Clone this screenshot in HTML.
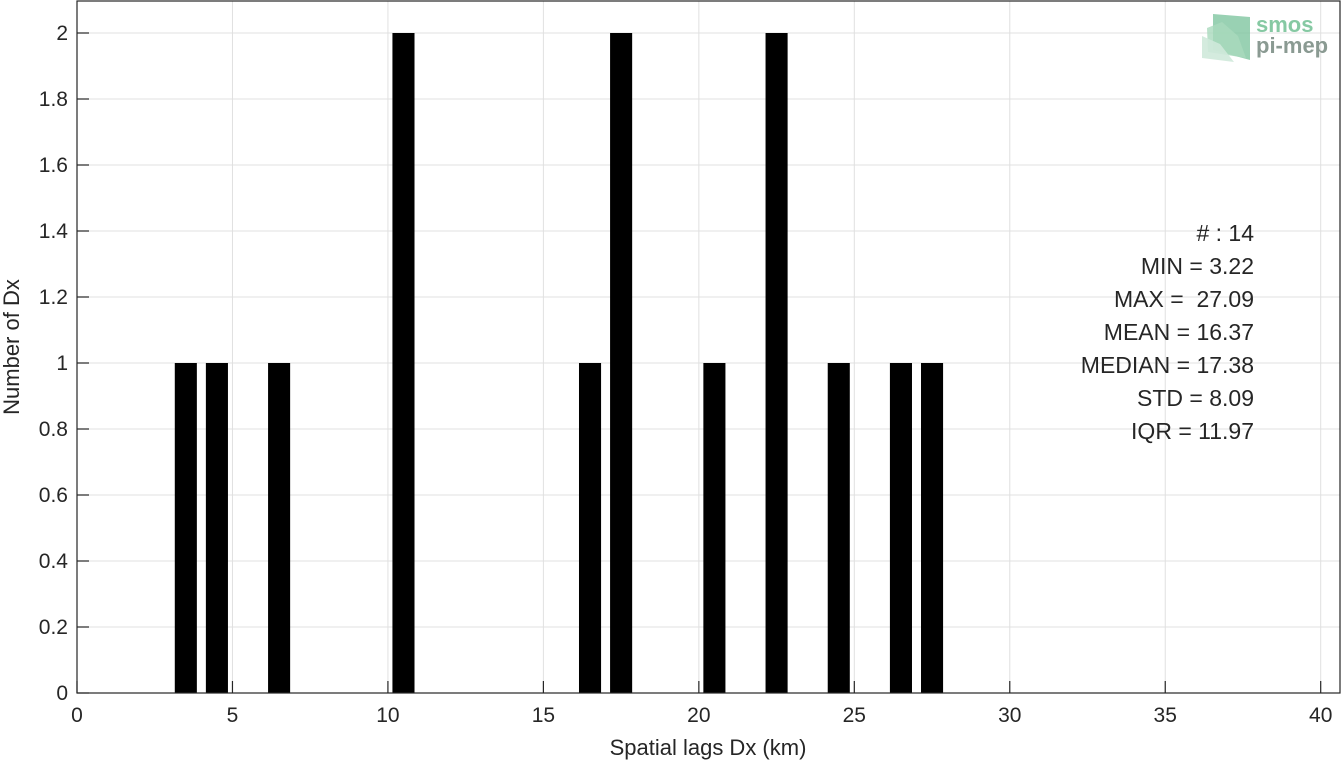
<!DOCTYPE html>
<html><head><meta charset="utf-8"><style>
body{margin:0;background:#fff;}
svg text{font-family:"Liberation Sans","DejaVu Sans",sans-serif;fill:#262626;}
</style></head><body>
<svg id="chart" width="1341" height="762" xmlns="http://www.w3.org/2000/svg">
<g id="grid"></g>
<g id="bars"></g>
<rect x="77" y="1" width="1263" height="692" fill="none" stroke="#262626" stroke-width="1.2"/>
<g id="ticks"></g>
<text x="708" y="755" font-size="22" text-anchor="middle">Spatial lags Dx (km)</text>
<text transform="translate(19,347) rotate(-90)" font-size="22" text-anchor="middle">Number of Dx</text>
<g font-size="23" text-anchor="end">
<text x="1254" y="241">#&#160;: 14</text>
<text x="1254" y="274">MIN = 3.22</text>
<text x="1254" y="307">MAX =&#160; 27.09</text>
<text x="1254" y="340">MEAN = 16.37</text>
<text x="1254" y="373">MEDIAN = 17.38</text>
<text x="1254" y="406">STD = 8.09</text>
<text x="1254" y="439">IQR = 11.97</text>
</g>
<g>
<polygon points="1213,14 1250,17 1250,60 1213,50" fill="#7fc6a0" opacity="0.8"/>
<polygon points="1207,28 1222,22 1238,36 1246,58 1208,52" fill="#a9d9bd" opacity="0.8"/>
<polygon points="1202,36 1220,44 1234,62 1202,58" fill="#cfe9da" opacity="0.9"/>
<text x="1256" y="32" font-size="22" font-weight="bold" style="fill:#86c9a3">smos</text>
<text x="1256" y="53" font-size="22" font-weight="bold" style="fill:#8a9a92">pi-mep</text>
</g>
</svg>
<script>
const binCenters=[3.5,4.5,6.5,10.5,16.5,17.5,20.5,22.5,24.5,26.5,27.5];
const counts=[1,1,1,2,1,2,1,2,1,1,1];
const xTicks=[0,5,10,15,20,25,30,35,40];
const yTicks=[0,0.2,0.4,0.6,0.8,1,1.2,1.4,1.6,1.8,2];
const yTickLabels=["0","0.2","0.4","0.6","0.8","1","1.2","1.4","1.6","1.8","2"];
const X0=77,XU=(1320.7-77)/40,Y0=693,YU=(693-33)/2,BW=0.71;
const x=v=>X0+v*XU, y=v=>Y0-v*YU;
const NS="http://www.w3.org/2000/svg";
function mk(t,a,p){const e=document.createElementNS(NS,t);for(const k in a)e.setAttribute(k,a[k]);p.appendChild(e);return e;}
const grid=document.getElementById('grid'),ticks=document.getElementById('ticks'),bars=document.getElementById('bars');
xTicks.forEach(v=>{
 const g=mk('line',{x1:x(v),x2:x(v),y1:1,y2:693,stroke:'#e0e0e0','stroke-width':1},grid);
 
 
 const t=mk('line',{x1:x(v),x2:x(v),y1:693,y2:681,stroke:'#262626','stroke-width':1.2},ticks);
 
 
 const l=mk('text',{x:x(v),y:722,'font-size':21,'text-anchor':'middle'},ticks);l.textContent=v;
 
 
});
yTicks.forEach((v,i)=>{
 const g=mk('line',{x1:77,x2:1340,y1:y(v),y2:y(v),stroke:'#e0e0e0','stroke-width':1},grid);
 
 
 const t=mk('line',{x1:77,x2:89,y1:y(v),y2:y(v),stroke:'#262626','stroke-width':1.2},ticks);
 
 
 const l=mk('text',{x:68,y:y(v)+7,'font-size':21,'text-anchor':'end'},ticks);l.textContent=yTickLabels[i];
 
 
});
binCenters.forEach((c,i)=>{
 const r=mk('rect',{x:x(c-BW/2),y:y(counts[i]),width:BW*XU,height:y(0)-y(counts[i]),fill:'#000'},bars);
 
 
});
</script>
</body></html>
